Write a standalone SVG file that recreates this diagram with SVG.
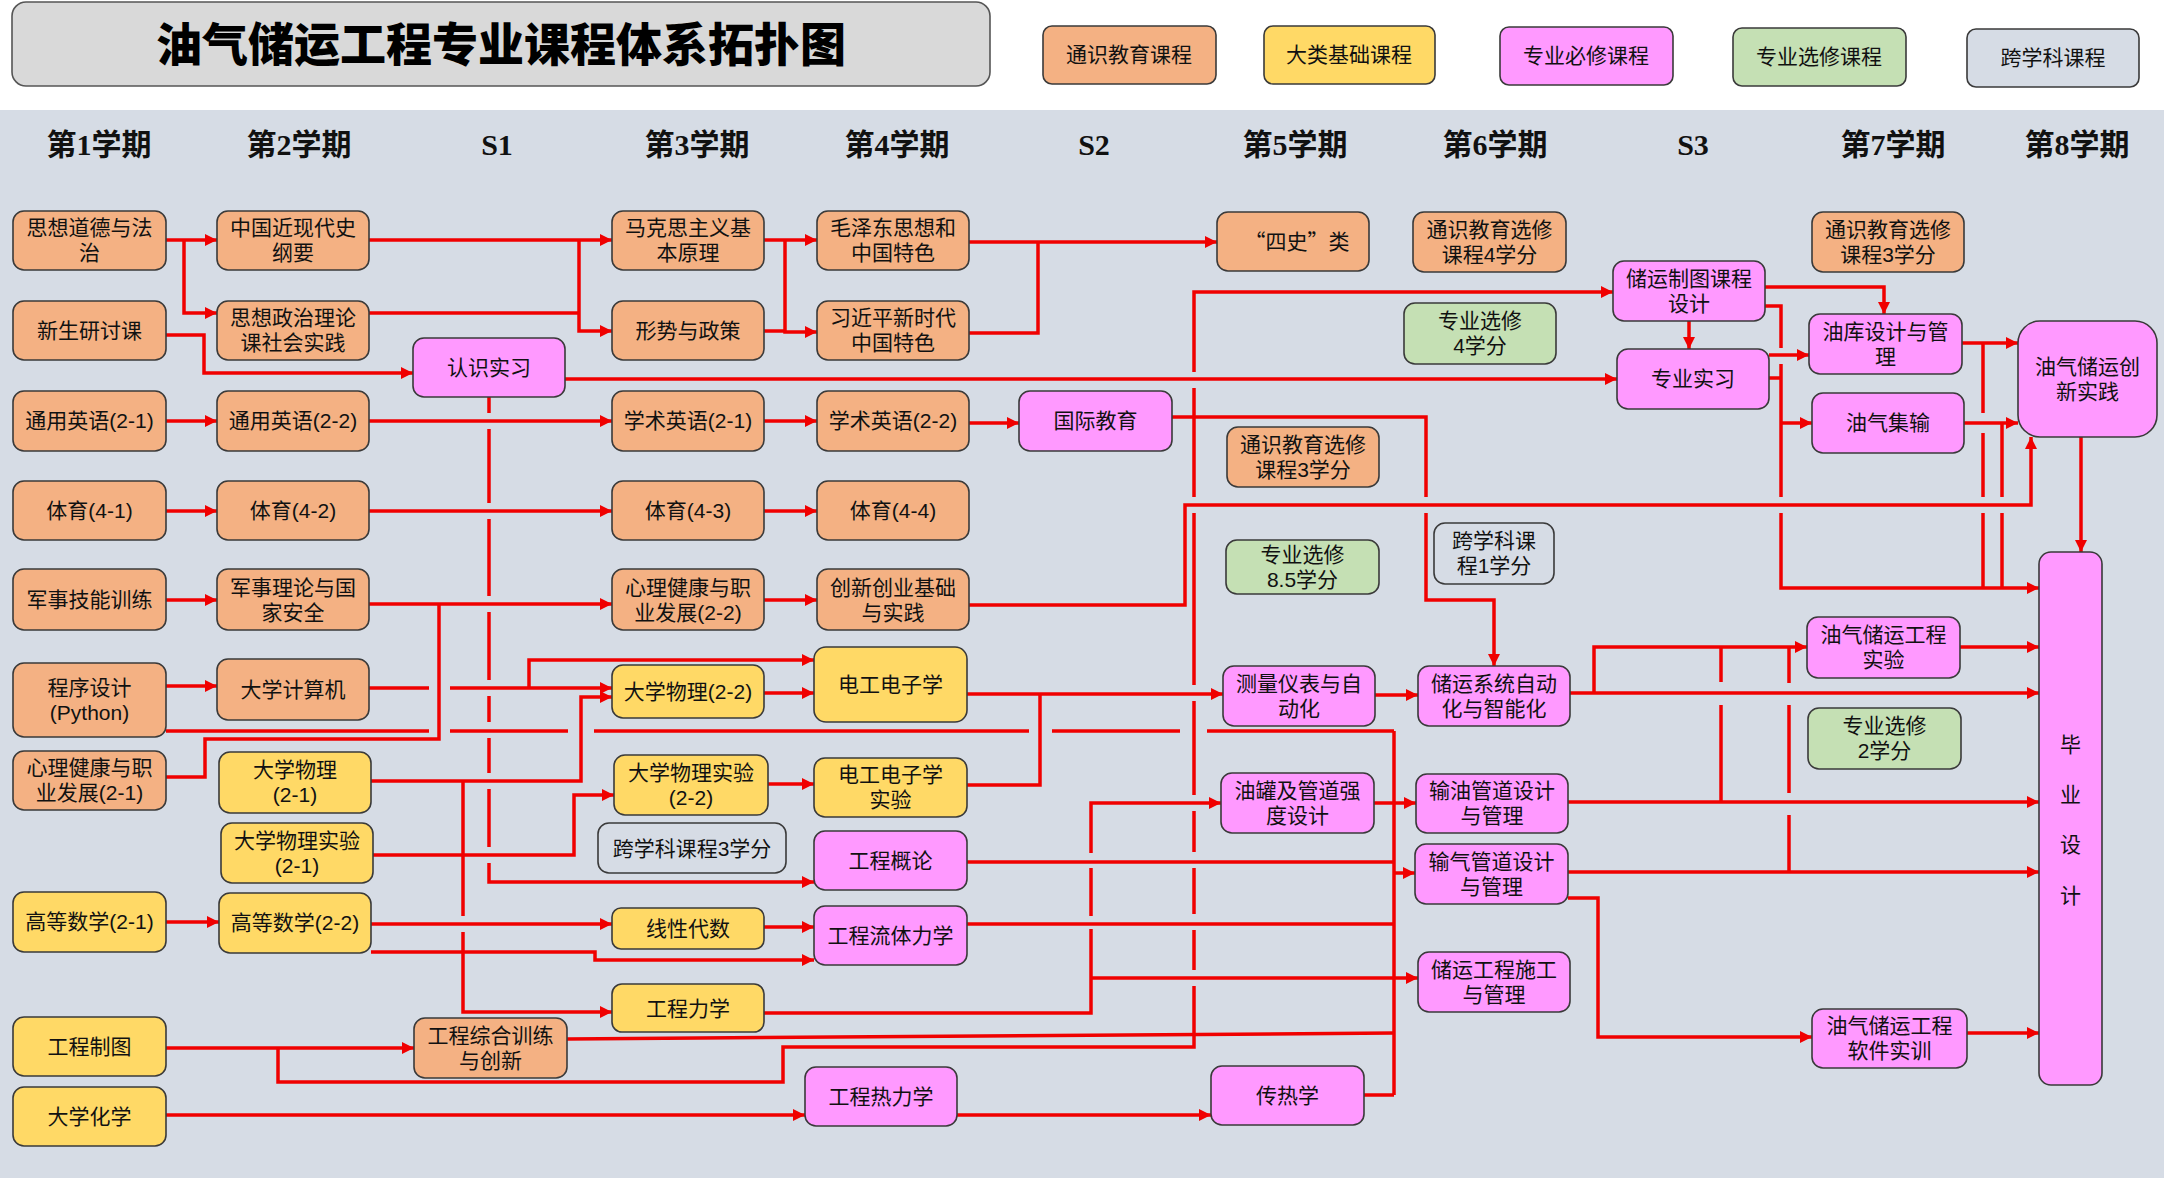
<svg xmlns="http://www.w3.org/2000/svg" width="2164" height="1178" viewBox="0 0 2164 1178">
<defs>
<style>
.bx{stroke:#3a3a3a;stroke-width:1.6}
.o{fill:#f4b183}.y{fill:#ffd966}.p{fill:#ff99ff}.g{fill:#c5e0b4}.k{fill:#d6dce5}
.t{font-family:"Liberation Sans","Noto Sans CJK SC",sans-serif;font-size:21px;fill:#111;text-anchor:middle}
.h{font-family:"Liberation Serif","Noto Sans CJK SC",serif;font-size:30px;font-weight:bold;fill:#111;text-anchor:middle}
.c{fill:none;stroke:#f00000;stroke-width:3.5}
.a{marker-end:url(#ah)}
</style>
<marker id="ah" viewBox="0 0 12 12" refX="12" refY="6" markerWidth="13" markerHeight="12" markerUnits="userSpaceOnUse" orient="auto"><path d="M0,0 L12,6 L0,12 z" fill="#f00000"/></marker>
</defs>
<rect x="0" y="0" width="2164" height="1178" fill="#ffffff"/>
<rect x="0" y="110" width="2164" height="1068" fill="#d6dce5"/>

<g id="title"><rect x="12" y="2" width="978" height="84" rx="14" fill="#d9d9d9" stroke="#555" stroke-width="1.6"/>
<text x="501" y="61" style="font-family:'Noto Sans CJK SC',sans-serif;font-size:46px;font-weight:900;fill:#000;text-anchor:middle">油气储运工程专业课程体系拓扑图</text></g>

<g id="legend">
<rect class="bx o" x="1043" y="26" width="173" height="58" rx="9"/><text class="t" x="1129" y="62">通识教育课程</text>
<rect class="bx y" x="1264" y="26" width="171" height="58" rx="9"/><text class="t" x="1349" y="62">大类基础课程</text>
<rect class="bx p" x="1500" y="27" width="173" height="58" rx="9"/><text class="t" x="1586" y="63">专业必修课程</text>
<rect class="bx g" x="1733" y="28" width="173" height="58" rx="9"/><text class="t" x="1819" y="64">专业选修课程</text>
<rect class="bx k" x="1967" y="29" width="172" height="58" rx="9"/><text class="t" x="2053" y="65">跨学科课程</text>
</g>

<g id="headers">
<text class="h" x="99" y="155">第1学期</text>
<text class="h" x="299" y="155">第2学期</text>
<text class="h" x="497" y="155">S1</text>
<text class="h" x="697" y="155">第3学期</text>
<text class="h" x="897" y="155">第4学期</text>
<text class="h" x="1094" y="155">S2</text>
<text class="h" x="1295" y="155">第5学期</text>
<text class="h" x="1495" y="155">第6学期</text>
<text class="h" x="1693" y="155">S3</text>
<text class="h" x="1893" y="155">第7学期</text>
<text class="h" x="2077" y="155">第8学期</text>
</g>

<g id="connectors">
<path class="c a" d="M166,240 H217"/>
<path class="c a" d="M184,240 V313 H217"/>
<path class="c a" d="M166,335 H204 V373 H413"/>
<path class="c a" d="M369,240 H612"/>
<path class="c" d="M369,313 H579"/>
<path class="c a" d="M579,240 V331 H612"/>
<path class="c a" d="M764,240 H817"/>
<path class="c" d="M764,331 H785"/>
<path class="c a" d="M785,240 V332 H817"/>
<path class="c a" d="M969,242 H1217"/>
<path class="c" d="M969,333 H1038 V242"/>
<path class="c a" d="M166,421 H217"/>
<path class="c a" d="M369,421 H612"/>
<path class="c a" d="M764,421 H817"/>
<path class="c a" d="M969,423 H1019"/>
<path class="c a" d="M1172,417 H1426 V497 M1426,513 V600 H1494 V666"/>
<path class="c a" d="M166,511 H217"/>
<path class="c a" d="M369,511 H612"/>
<path class="c a" d="M764,511 H817"/>
<path class="c a" d="M166,600 H217"/>
<path class="c a" d="M369,604 H612"/>
<path class="c" d="M166,777 H205 V739 H439 V604"/>
<path class="c a" d="M764,600 H817"/>
<path class="c a" d="M969,605 H1185 V505 H2031 V437"/>
<path class="c a" d="M565,379 H1617"/>
<path class="c a" d="M489,397 V413 M489,429 V503 M489,519 V596 M489,612 V680 M489,696 V722 M489,738 V773 M489,789 V847 M489,863 V882 H814"/>
<path class="c a" d="M166,686 H217"/>
<path class="c a" d="M369,688 H429 M450,688 H612"/>
<path class="c a" d="M529,688 V660 H814"/>
<path class="c" d="M166,731 H429 M450,731 H568 M594,731 H1029 M1052,731 H1180 M1207,731 H1394"/>
<path class="c a" d="M371,781 H581 V697 H612"/>
<path class="c a" d="M463,781 V916 M463,932 V1012 H612"/>
<path class="c a" d="M373,855 H574 V795 H614"/>
<path class="c a" d="M764,693 H814"/>
<path class="c a" d="M768,784 H814"/>
<path class="c a" d="M166,922 H219"/>
<path class="c a" d="M371,924 H612"/>
<path class="c a" d="M371,952 H595 V960 H814"/>
<path class="c a" d="M764,927 H814"/>
<path class="c a" d="M166,1048 H414"/>
<path class="c a" d="M278,1048 V1082 H783 V1047 H1194 V986 M1194,970 V930 M1194,914 V868 M1194,852 V811 M1194,795 V701 M1194,685 V513 M1194,497 V388 M1194,372 V292 H1613"/>
<path class="c a" d="M166,1115 H805"/>
<path class="c a" d="M957,1115 H1211"/>
<path class="c" d="M1364,1095 H1394"/>
<path class="c" d="M567,1039 L1394,1033"/>
<path class="c a" d="M967,694 H1223"/>
<path class="c" d="M967,785 H1040 V694"/>
<path class="c a" d="M764,1013 H1091 V929 M1091,916 V868 M1091,853 V803 H1221"/>
<path class="c a" d="M1091,978 H1418"/>
<path class="c" d="M967,862 H1394"/>
<path class="c" d="M967,924 H1394"/>
<path class="c" d="M1394,731 V1095"/>
<path class="c a" d="M1394,873 H1415"/>
<path class="c a" d="M1374,803 H1416"/>
<path class="c a" d="M1375,695 H1418"/>
<path class="c a" d="M1570,693 H2039"/>
<path class="c a" d="M1594,693 V647 H1807"/>
<path class="c a" d="M1568,802 H2039"/>
<path class="c" d="M1721,802 V705 M1721,682 V647"/>
<path class="c a" d="M1568,872 H2039"/>
<path class="c" d="M1789,872 V815 M1789,793 V705 M1789,683 V647"/>
<path class="c a" d="M1568,898 H1598 V1037 H1812"/>
<path class="c a" d="M1967,1033 H2039"/>
<path class="c a" d="M1960,647 H2039"/>
<path class="c a" d="M1765,287 H1884 V314"/>
<path class="c a" d="M1689,321 V349"/>
<path class="c a" d="M1765,306 H1781 V348 M1781,364 V497 M1781,513 V588 H2039"/>
<path class="c" d="M1769,378 H1781"/>
<path class="c a" d="M1781,423 H1812"/>
<path class="c a" d="M1769,355 H1809"/>
<path class="c a" d="M1962,343 H2018"/>
<path class="c" d="M1983,343 V413 M1983,433 V497 M1983,513 V588"/>
<path class="c a" d="M1964,423 H2018"/>
<path class="c" d="M2002,423 V497 M2002,513 V588"/>
<path class="c a" d="M2081,437 V552"/>
</g>

<g id="n-sxdd"><rect class="bx o" x="13" y="211" width="153" height="59" rx="11"/><text class="t" x="89.5" y="235">思想道德与法</text><text class="t" x="89.5" y="260">治</text></g>
<g id="n-xsyt"><rect class="bx o" x="13" y="301" width="153" height="59" rx="11"/><text class="t" x="89.5" y="338">新生研讨课</text></g>
<g id="n-tyyy1"><rect class="bx o" x="13" y="391" width="153" height="60" rx="11"/><text class="t" x="89.5" y="428">通用英语(2-1)</text></g>
<g id="n-ty1"><rect class="bx o" x="13" y="481" width="153" height="59" rx="11"/><text class="t" x="89.5" y="518">体育(4-1)</text></g>
<g id="n-jsjn"><rect class="bx o" x="13" y="569" width="153" height="61" rx="11"/><text class="t" x="89.5" y="607">军事技能训练</text></g>
<g id="n-cxsj"><rect class="bx o" x="13" y="663" width="153" height="74" rx="11"/><text class="t" x="89.5" y="695">程序设计</text><text class="t" x="89.5" y="720">(Python)</text></g>
<g id="n-xljk1"><rect class="bx o" x="13" y="751" width="153" height="59" rx="11"/><text class="t" x="89.5" y="775">心理健康与职</text><text class="t" x="89.5" y="800">业发展(2-1)</text></g>
<g id="n-gdsx1"><rect class="bx y" x="13" y="892" width="153" height="60" rx="11"/><text class="t" x="89.5" y="929">高等数学(2-1)</text></g>
<g id="n-gczt"><rect class="bx y" x="13" y="1017" width="153" height="59" rx="11"/><text class="t" x="89.5" y="1054">工程制图</text></g>
<g id="n-dxhx"><rect class="bx y" x="13" y="1087" width="153" height="59" rx="11"/><text class="t" x="89.5" y="1124">大学化学</text></g>

<g id="n-zgjxd"><rect class="bx o" x="217" y="211" width="152" height="59" rx="11"/><text class="t" x="293" y="235">中国近现代史</text><text class="t" x="293" y="260">纲要</text></g>
<g id="n-szll"><rect class="bx o" x="217" y="301" width="152" height="59" rx="11"/><text class="t" x="293" y="325">思想政治理论</text><text class="t" x="293" y="350">课社会实践</text></g>
<g id="n-tyyy2"><rect class="bx o" x="217" y="391" width="152" height="60" rx="11"/><text class="t" x="293" y="428">通用英语(2-2)</text></g>
<g id="n-ty2"><rect class="bx o" x="217" y="481" width="152" height="59" rx="11"/><text class="t" x="293" y="518">体育(4-2)</text></g>
<g id="n-jsll"><rect class="bx o" x="217" y="569" width="152" height="61" rx="11"/><text class="t" x="293" y="595">军事理论与国</text><text class="t" x="293" y="620">家安全</text></g>
<g id="n-dxjsj"><rect class="bx o" x="217" y="659" width="152" height="61" rx="11"/><text class="t" x="293" y="697">大学计算机</text></g>
<g id="n-dxwl1"><rect class="bx y" x="219" y="752" width="152" height="61" rx="11"/><text class="t" x="295" y="777">大学物理</text><text class="t" x="295" y="802">(2-1)</text></g>
<g id="n-wlsy1"><rect class="bx y" x="221" y="823" width="152" height="60" rx="11"/><text class="t" x="297" y="848">大学物理实验</text><text class="t" x="297" y="873">(2-1)</text></g>
<g id="n-gdsx2"><rect class="bx y" x="219" y="893" width="152" height="60" rx="11"/><text class="t" x="295" y="930">高等数学(2-2)</text></g>

<g id="n-rssx"><rect class="bx p" x="413" y="338" width="152" height="59" rx="11"/><text class="t" x="489" y="375">认识实习</text></g>
<g id="n-gczh"><rect class="bx o" x="414" y="1018" width="153" height="60" rx="11"/><text class="t" x="490.5" y="1043">工程综合训练</text><text class="t" x="490.5" y="1068">与创新</text></g>

<g id="n-mks"><rect class="bx o" x="612" y="211" width="152" height="59" rx="11"/><text class="t" x="688" y="235">马克思主义基</text><text class="t" x="688" y="260">本原理</text></g>
<g id="n-xszc"><rect class="bx o" x="612" y="301" width="152" height="59" rx="11"/><text class="t" x="688" y="338">形势与政策</text></g>
<g id="n-xsyy1"><rect class="bx o" x="612" y="391" width="152" height="60" rx="11"/><text class="t" x="688" y="428">学术英语(2-1)</text></g>
<g id="n-ty3"><rect class="bx o" x="612" y="481" width="152" height="59" rx="11"/><text class="t" x="688" y="518">体育(4-3)</text></g>
<g id="n-xljk2"><rect class="bx o" x="612" y="569" width="152" height="61" rx="11"/><text class="t" x="688" y="595">心理健康与职</text><text class="t" x="688" y="620">业发展(2-2)</text></g>
<g id="n-dxwl2"><rect class="bx y" x="612" y="665" width="152" height="53" rx="11"/><text class="t" x="688" y="699">大学物理(2-2)</text></g>
<g id="n-wlsy2"><rect class="bx y" x="614" y="755" width="154" height="60" rx="11"/><text class="t" x="691" y="780">大学物理实验</text><text class="t" x="691" y="805">(2-2)</text></g>
<g id="n-kxk3"><rect class="bx k" x="598" y="823" width="188" height="50" rx="11"/><text class="t" x="692" y="856">跨学科课程3学分</text></g>
<g id="n-xxds"><rect class="bx y" x="612" y="908" width="152" height="41" rx="9"/><text class="t" x="688" y="936">线性代数</text></g>
<g id="n-gclx"><rect class="bx y" x="612" y="984" width="152" height="48" rx="10"/><text class="t" x="688" y="1016">工程力学</text></g>

<g id="n-mzd"><rect class="bx o" x="817" y="211" width="152" height="59" rx="11"/><text class="t" x="893" y="235">毛泽东思想和</text><text class="t" x="893" y="260">中国特色</text></g>
<g id="n-xjp"><rect class="bx o" x="817" y="301" width="152" height="59" rx="11"/><text class="t" x="893" y="325">习近平新时代</text><text class="t" x="893" y="350">中国特色</text></g>
<g id="n-xsyy2"><rect class="bx o" x="817" y="391" width="152" height="60" rx="11"/><text class="t" x="893" y="428">学术英语(2-2)</text></g>
<g id="n-ty4"><rect class="bx o" x="817" y="481" width="152" height="59" rx="11"/><text class="t" x="893" y="518">体育(4-4)</text></g>
<g id="n-cxcy"><rect class="bx o" x="817" y="569" width="152" height="61" rx="11"/><text class="t" x="893" y="595">创新创业基础</text><text class="t" x="893" y="620">与实践</text></g>
<g id="n-dgdz"><rect class="bx y" x="814" y="647" width="153" height="75" rx="12"/><text class="t" x="890.5" y="692">电工电子学</text></g>
<g id="n-dgsy"><rect class="bx y" x="814" y="758" width="153" height="59" rx="11"/><text class="t" x="890.5" y="782">电工电子学</text><text class="t" x="890.5" y="807">实验</text></g>
<g id="n-gcgl"><rect class="bx p" x="814" y="831" width="153" height="59" rx="11"/><text class="t" x="890.5" y="868">工程概论</text></g>
<g id="n-gcll"><rect class="bx p" x="814" y="906" width="153" height="59" rx="11"/><text class="t" x="890.5" y="943">工程流体力学</text></g>
<g id="n-gcrl"><rect class="bx p" x="805" y="1067" width="152" height="59" rx="11"/><text class="t" x="881" y="1104">工程热力学</text></g>

<g id="n-gjjy"><rect class="bx p" x="1019" y="391" width="153" height="60" rx="11"/><text class="t" x="1095.5" y="428">国际教育</text></g>
<g id="n-ss"><rect class="bx o" x="1217" y="212" width="152" height="59" rx="11"/><text class="t" x="1297" y="249" style="font-family:'Noto Sans CJK SC',sans-serif">“四史”类</text></g>
<g id="n-tsxx3a"><rect class="bx o" x="1227" y="427" width="152" height="60" rx="11"/><text class="t" x="1303" y="452">通识教育选修</text><text class="t" x="1303" y="477">课程3学分</text></g>
<g id="n-zyxx85"><rect class="bx g" x="1226" y="540" width="153" height="54" rx="11"/><text class="t" x="1302.5" y="562">专业选修</text><text class="t" x="1302.5" y="587">8.5学分</text></g>

<g id="n-clyb"><rect class="bx p" x="1223" y="666" width="152" height="60" rx="11"/><text class="t" x="1299" y="691">测量仪表与自</text><text class="t" x="1299" y="716">动化</text></g>
<g id="n-yggd"><rect class="bx p" x="1221" y="773" width="153" height="60" rx="11"/><text class="t" x="1297.5" y="798">油罐及管道强</text><text class="t" x="1297.5" y="823">度设计</text></g>
<g id="n-crx"><rect class="bx p" x="1211" y="1066" width="153" height="59" rx="11"/><text class="t" x="1287.5" y="1103">传热学</text></g>

<g id="n-tsxx4"><rect class="bx o" x="1413" y="212" width="153" height="60" rx="11"/><text class="t" x="1489.5" y="237">通识教育选修</text><text class="t" x="1489.5" y="262">课程4学分</text></g>
<g id="n-zyxx4"><rect class="bx g" x="1404" y="303" width="152" height="61" rx="11"/><text class="t" x="1480" y="328">专业选修</text><text class="t" x="1480" y="353">4学分</text></g>
<g id="n-kxk1"><rect class="bx k" x="1434" y="523" width="120" height="61" rx="11"/><text class="t" x="1494" y="548">跨学科课</text><text class="t" x="1494" y="573">程1学分</text></g>
<g id="n-cyxt"><rect class="bx p" x="1418" y="666" width="152" height="60" rx="11"/><text class="t" x="1494" y="691">储运系统自动</text><text class="t" x="1494" y="716">化与智能化</text></g>
<g id="n-sygd"><rect class="bx p" x="1416" y="774" width="152" height="59" rx="11"/><text class="t" x="1492" y="798">输油管道设计</text><text class="t" x="1492" y="823">与管理</text></g>
<g id="n-sqgd"><rect class="bx p" x="1415" y="844" width="153" height="60" rx="11"/><text class="t" x="1491.5" y="869">输气管道设计</text><text class="t" x="1491.5" y="894">与管理</text></g>
<g id="n-cysg"><rect class="bx p" x="1418" y="952" width="152" height="60" rx="11"/><text class="t" x="1494" y="977">储运工程施工</text><text class="t" x="1494" y="1002">与管理</text></g>

<g id="n-cyzt"><rect class="bx p" x="1613" y="261" width="152" height="60" rx="11"/><text class="t" x="1689" y="286">储运制图课程</text><text class="t" x="1689" y="311">设计</text></g>
<g id="n-zysx"><rect class="bx p" x="1617" y="349" width="152" height="60" rx="11"/><text class="t" x="1693" y="386">专业实习</text></g>

<g id="n-tsxx3b"><rect class="bx o" x="1812" y="212" width="152" height="60" rx="11"/><text class="t" x="1888" y="237">通识教育选修</text><text class="t" x="1888" y="262">课程3学分</text></g>
<g id="n-yksj"><rect class="bx p" x="1809" y="314" width="153" height="60" rx="11"/><text class="t" x="1885.5" y="339">油库设计与管</text><text class="t" x="1885.5" y="364">理</text></g>
<g id="n-yqjs"><rect class="bx p" x="1812" y="393" width="152" height="60" rx="11"/><text class="t" x="1888" y="430">油气集输</text></g>
<g id="n-gcsy"><rect class="bx p" x="1807" y="617" width="153" height="61" rx="11"/><text class="t" x="1883.5" y="642">油气储运工程</text><text class="t" x="1883.5" y="667">实验</text></g>
<g id="n-zyxx2"><rect class="bx g" x="1808" y="708" width="153" height="61" rx="11"/><text class="t" x="1884.5" y="733">专业选修</text><text class="t" x="1884.5" y="758">2学分</text></g>
<g id="n-rjsx"><rect class="bx p" x="1812" y="1009" width="155" height="59" rx="11"/><text class="t" x="1889.5" y="1033">油气储运工程</text><text class="t" x="1889.5" y="1058">软件实训</text></g>

<g id="n-cxsj2"><rect class="bx p" x="2018" y="321" width="139" height="116" rx="22"/><text class="t" x="2087.5" y="374">油气储运创</text><text class="t" x="2087.5" y="399">新实践</text></g>
<g id="n-bysj"><rect class="bx p" x="2039" y="552" width="63" height="533" rx="12"/><text class="t" x="2070.5" y="752">毕</text><text class="t" x="2070.5" y="802">业</text><text class="t" x="2070.5" y="852">设</text><text class="t" x="2070.5" y="903">计</text></g>
</svg>
